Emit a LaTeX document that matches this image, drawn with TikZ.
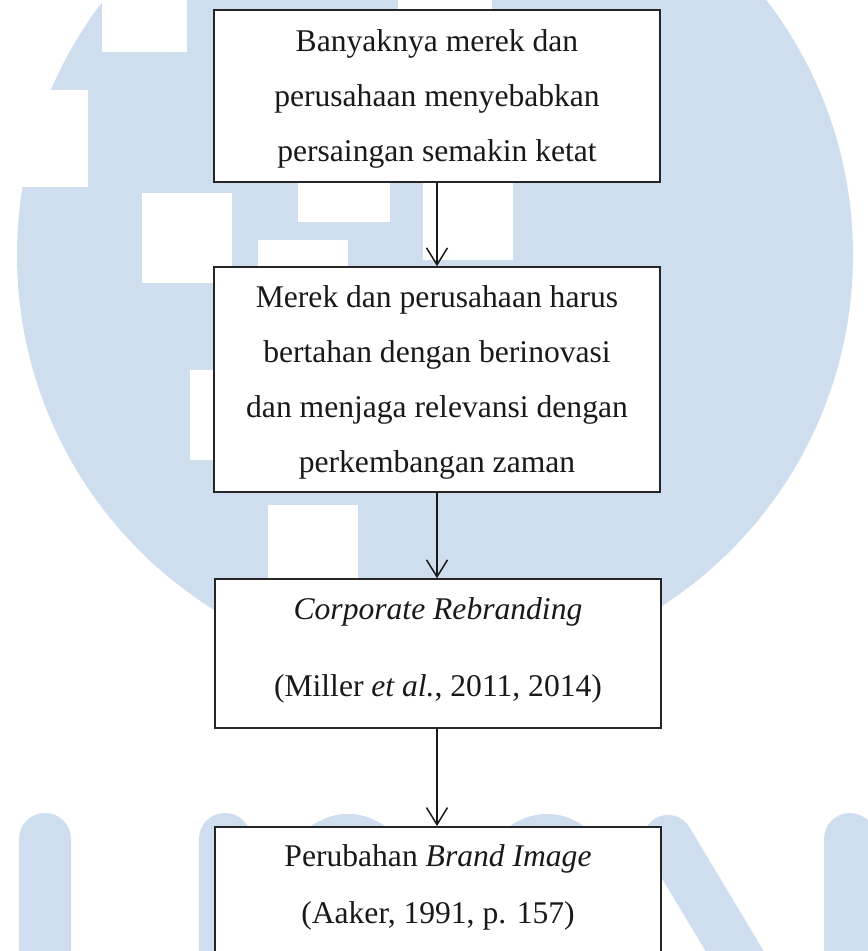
\documentclass[tikz,border=0pt]{standalone}
\usepackage{fontspec}
\setmainfont{Liberation Serif}
\usetikzlibrary{arrows.meta}
\definecolor{umnblue}{RGB}{206,222,238}

\begin{document}
\begin{tikzpicture}[x=.5pt,y=-.5pt]
\tikzstyle{box}=[draw=black!85, fill=white, rectangle, line width=.75pt, align=center, minimum width=223pt, inner sep=0pt, text=black!90, text depth=0pt, font=\fontsize{15.8pt}{27.5pt}\selectfont]
\tikzstyle{flow}=[-{Straight Barb[length=8.5pt,width=10.5pt]}, line width=.75pt, black!90]

\useasboundingbox (0,0) rectangle (867,951);

% watermark: circle with white blocks
\fill[umnblue] (435,255) circle (209pt);
\foreach \xa/\ya/\xb/\yb in {0/90/88/187, 102/-10/187/52, 398/-10/492/40, 298/130/390/222, 423/150/513/260, 142/193/232/283, 258/240/348/300, 190/370/280/460, 268/505/358/600}
  \fill[white] (\xa,\ya) rectangle (\xb,\yb);

% watermark: letters below the circle
\foreach \xa/\xb in {19/71, 199/251, 824/876}
  \fill[umnblue, rounded corners=12.9pt] (\xa,813) rectangle (\xb,1100);
\foreach \xm in {348,547}
  \fill[umnblue] (\xm,876) circle (31pt);
\draw[umnblue, line width=25pt, line cap=round] (668,840) -- (770,1010);

% flow boxes
\node[box, minimum height=86pt] (banyak) at (437,96) {Banyaknya merek dan\\perusahaan menyebabkan\\persaingan semakin ketat};
\node[box, minimum height=112.5pt] (bertahan) at (437,379.5) {Merek dan perusahaan harus\\bertahan dengan berinovasi\\dan menjaga relevansi dengan\\perkembangan zaman};
\node[box, minimum height=74.5pt, text depth=6pt] (rebrand) at (438,653.5) {\textit{Corporate Rebranding}\\[11pt](Miller \textit{et al.}, 2011, 2014)};
\node[box, anchor=north, inner ysep=8.7pt, text depth=20pt, font=\fontsize{15.8pt}{28.5pt}\selectfont] (citra) at (438,826) {Perubahan \textit{Brand Image}\\(Aaker, 1991, p. 157)};

% arrows between boxes
\draw[flow] (banyak.south) -- (bertahan.north);
\draw[flow] (bertahan.south) -- (bertahan.south |- rebrand.north);
\draw[flow] (rebrand.south -| bertahan.south) -- (bertahan.south |- citra.north);

\end{tikzpicture}
\end{document}
